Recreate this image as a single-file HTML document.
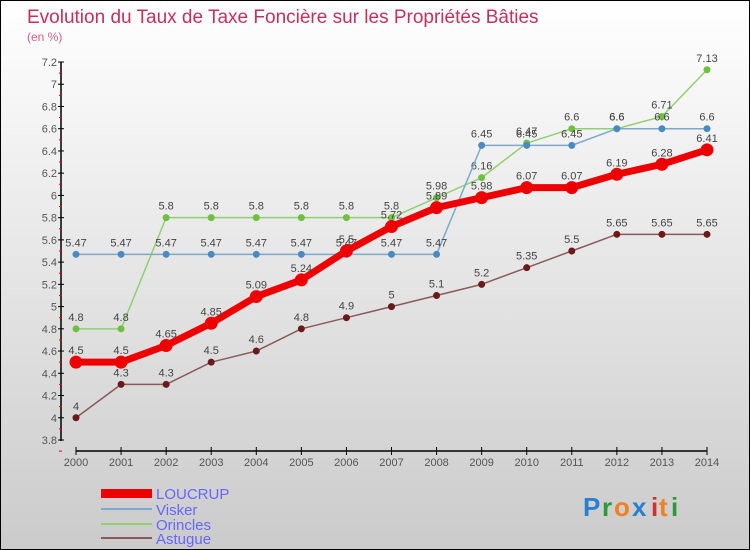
<!DOCTYPE html>
<html><head><meta charset="utf-8"><style>
body{margin:0;width:750px;height:550px;overflow:hidden;font-family:"Liberation Sans",sans-serif}
#wrap{position:relative;width:748px;height:548px;border:1px solid #000;background:linear-gradient(#fff,#cbcbcb)}
</style></head><body>
<div id="wrap">
<svg id="svg" width="748" height="548" xmlns="http://www.w3.org/2000/svg" style="position:absolute;left:0;top:0">
<text x="26" y="22" font-size="19" fill="#c4305e">Evolution du Taux de Taxe Foncière sur les Propriétés Bâties</text>
<text x="26" y="40" font-size="12" fill="#d0608a">(en %)</text>
<g id="axes"></g><g id="series"></g>
<g>
<rect x="100" y="488" width="51" height="9" fill="#e00"/>
<text x="155" y="498" font-size="15" fill="#66f">LOUCRUP</text>
<line x1="100" x2="151" y1="508" y2="508" stroke="#7aaad0" stroke-width="2"/>
<text x="155" y="514" font-size="15" fill="#66f">Visker</text>
<line x1="100" x2="151" y1="523" y2="523" stroke="#90d070" stroke-width="2"/>
<text x="155" y="529" font-size="15" fill="#66f">Orincles</text>
<line x1="100" x2="151" y1="537" y2="537" stroke="#8a5a5a" stroke-width="2"/>
<text x="155" y="543" font-size="15" fill="#66f">Astugue</text>
</g>
<g font-size="26" font-weight="bold">
<text x="582" y="515" fill="#2a7fd0">P</text><text x="601" y="515" fill="#2a9a3a">r</text><text x="613" y="515" fill="#f08020">o</text><text x="631" y="515" fill="#2a7fd0">x</text><text x="650" y="515" fill="#d03030">i</text><text x="658" y="515" fill="#f08020">t</text><text x="670" y="515" fill="#2a9a3a">i</text>
</g>
</svg></div>
<script>
const years=[2000,2001,2002,2003,2004,2005,2006,2007,2008,2009,2010,2011,2012,2013,2014];
const loucrup=[4.5,4.5,4.65,4.85,5.09,5.24,5.5,5.72,5.89,5.98,6.07,6.07,6.19,6.28,6.41];
const visker=[5.47,5.47,5.47,5.47,5.47,5.47,5.47,5.47,5.47,6.45,6.45,6.45,6.6,6.6,6.6];
const orincles=[4.8,4.8,5.8,5.8,5.8,5.8,5.8,5.8,5.98,6.16,6.47,6.6,6.6,6.71,7.13];
const astugue=[4,4.3,4.3,4.5,4.6,4.8,4.9,5,5.1,5.2,5.35,5.5,5.65,5.65,5.65];
const yTicks=[3.8,4,4.2,4.4,4.6,4.8,5,5.2,5.4,5.6,5.8,6,6.2,6.4,6.6,6.8,7,7.2];
const NS="http://www.w3.org/2000/svg";
const xs=i=>75+i*(631/14);
const ys=v=>61+(7.2-v)*(378/3.4);
function mk(t,a,p){const e=document.createElementNS(NS,t);for(const k in a)e.setAttribute(k,a[k]);p.appendChild(e);return e;}
const ax=document.getElementById('axes');
const yl=mk('line',{x1:60,x2:60,y1:61,y2:440,stroke:'#000','stroke-width':1.5},ax);


yTicks.forEach(v=>{const y=ys(v);
mk('line',{x1:57,x2:63,y1:y,y2:y,stroke:'#000'},ax);
mk('line',{x1:58,x2:61,y1:y+11.1,y2:y+11.1,stroke:'#e00'},ax);
const t=mk('text',{x:56,y:y+4,'font-size':11,fill:'#555','text-anchor':'end'},ax);t.textContent=String(v);

});
const xl=mk('line',{x1:75,x2:706,y1:450,y2:450,stroke:'#000','stroke-width':1.5},ax);


years.forEach((yr,i)=>{const x=xs(i);
mk('line',{x1:x,x2:x,y1:446,y2:454,stroke:'#000'},ax);
const t=mk('text',{x:x,y:465,'font-size':11,fill:'#555','text-anchor':'middle'},ax);t.textContent=yr;

});
const sg=document.getElementById('series');
function draw(name,data,color,w,r,dot){
const g=mk('g',{},sg);


mk('polyline',{points:data.map((v,i)=>xs(i)+','+ys(v)).join(' '),fill:'none',stroke:color,'stroke-width':w,'stroke-linejoin':'round'},g);
data.forEach((v,i)=>{const c=mk('circle',{cx:xs(i),cy:ys(v),r:r,fill:dot},g);


const t=mk('text',{x:xs(i),y:ys(v)-8,'font-size':11,fill:'#444','text-anchor':'middle'},g);t.textContent=String(v);

});}
draw('astugue',astugue,'#8a5a5a',1.5,3.5,'#6a1a1a');
draw('orincles',orincles,'#90d070',1.5,3.5,'#70c040');
draw('visker',visker,'#7aaad0',1.5,3.5,'#4a8ac0');
draw('loucrup',loucrup,'#e00',7,6.5,'#e00');
</script>
</body></html>
